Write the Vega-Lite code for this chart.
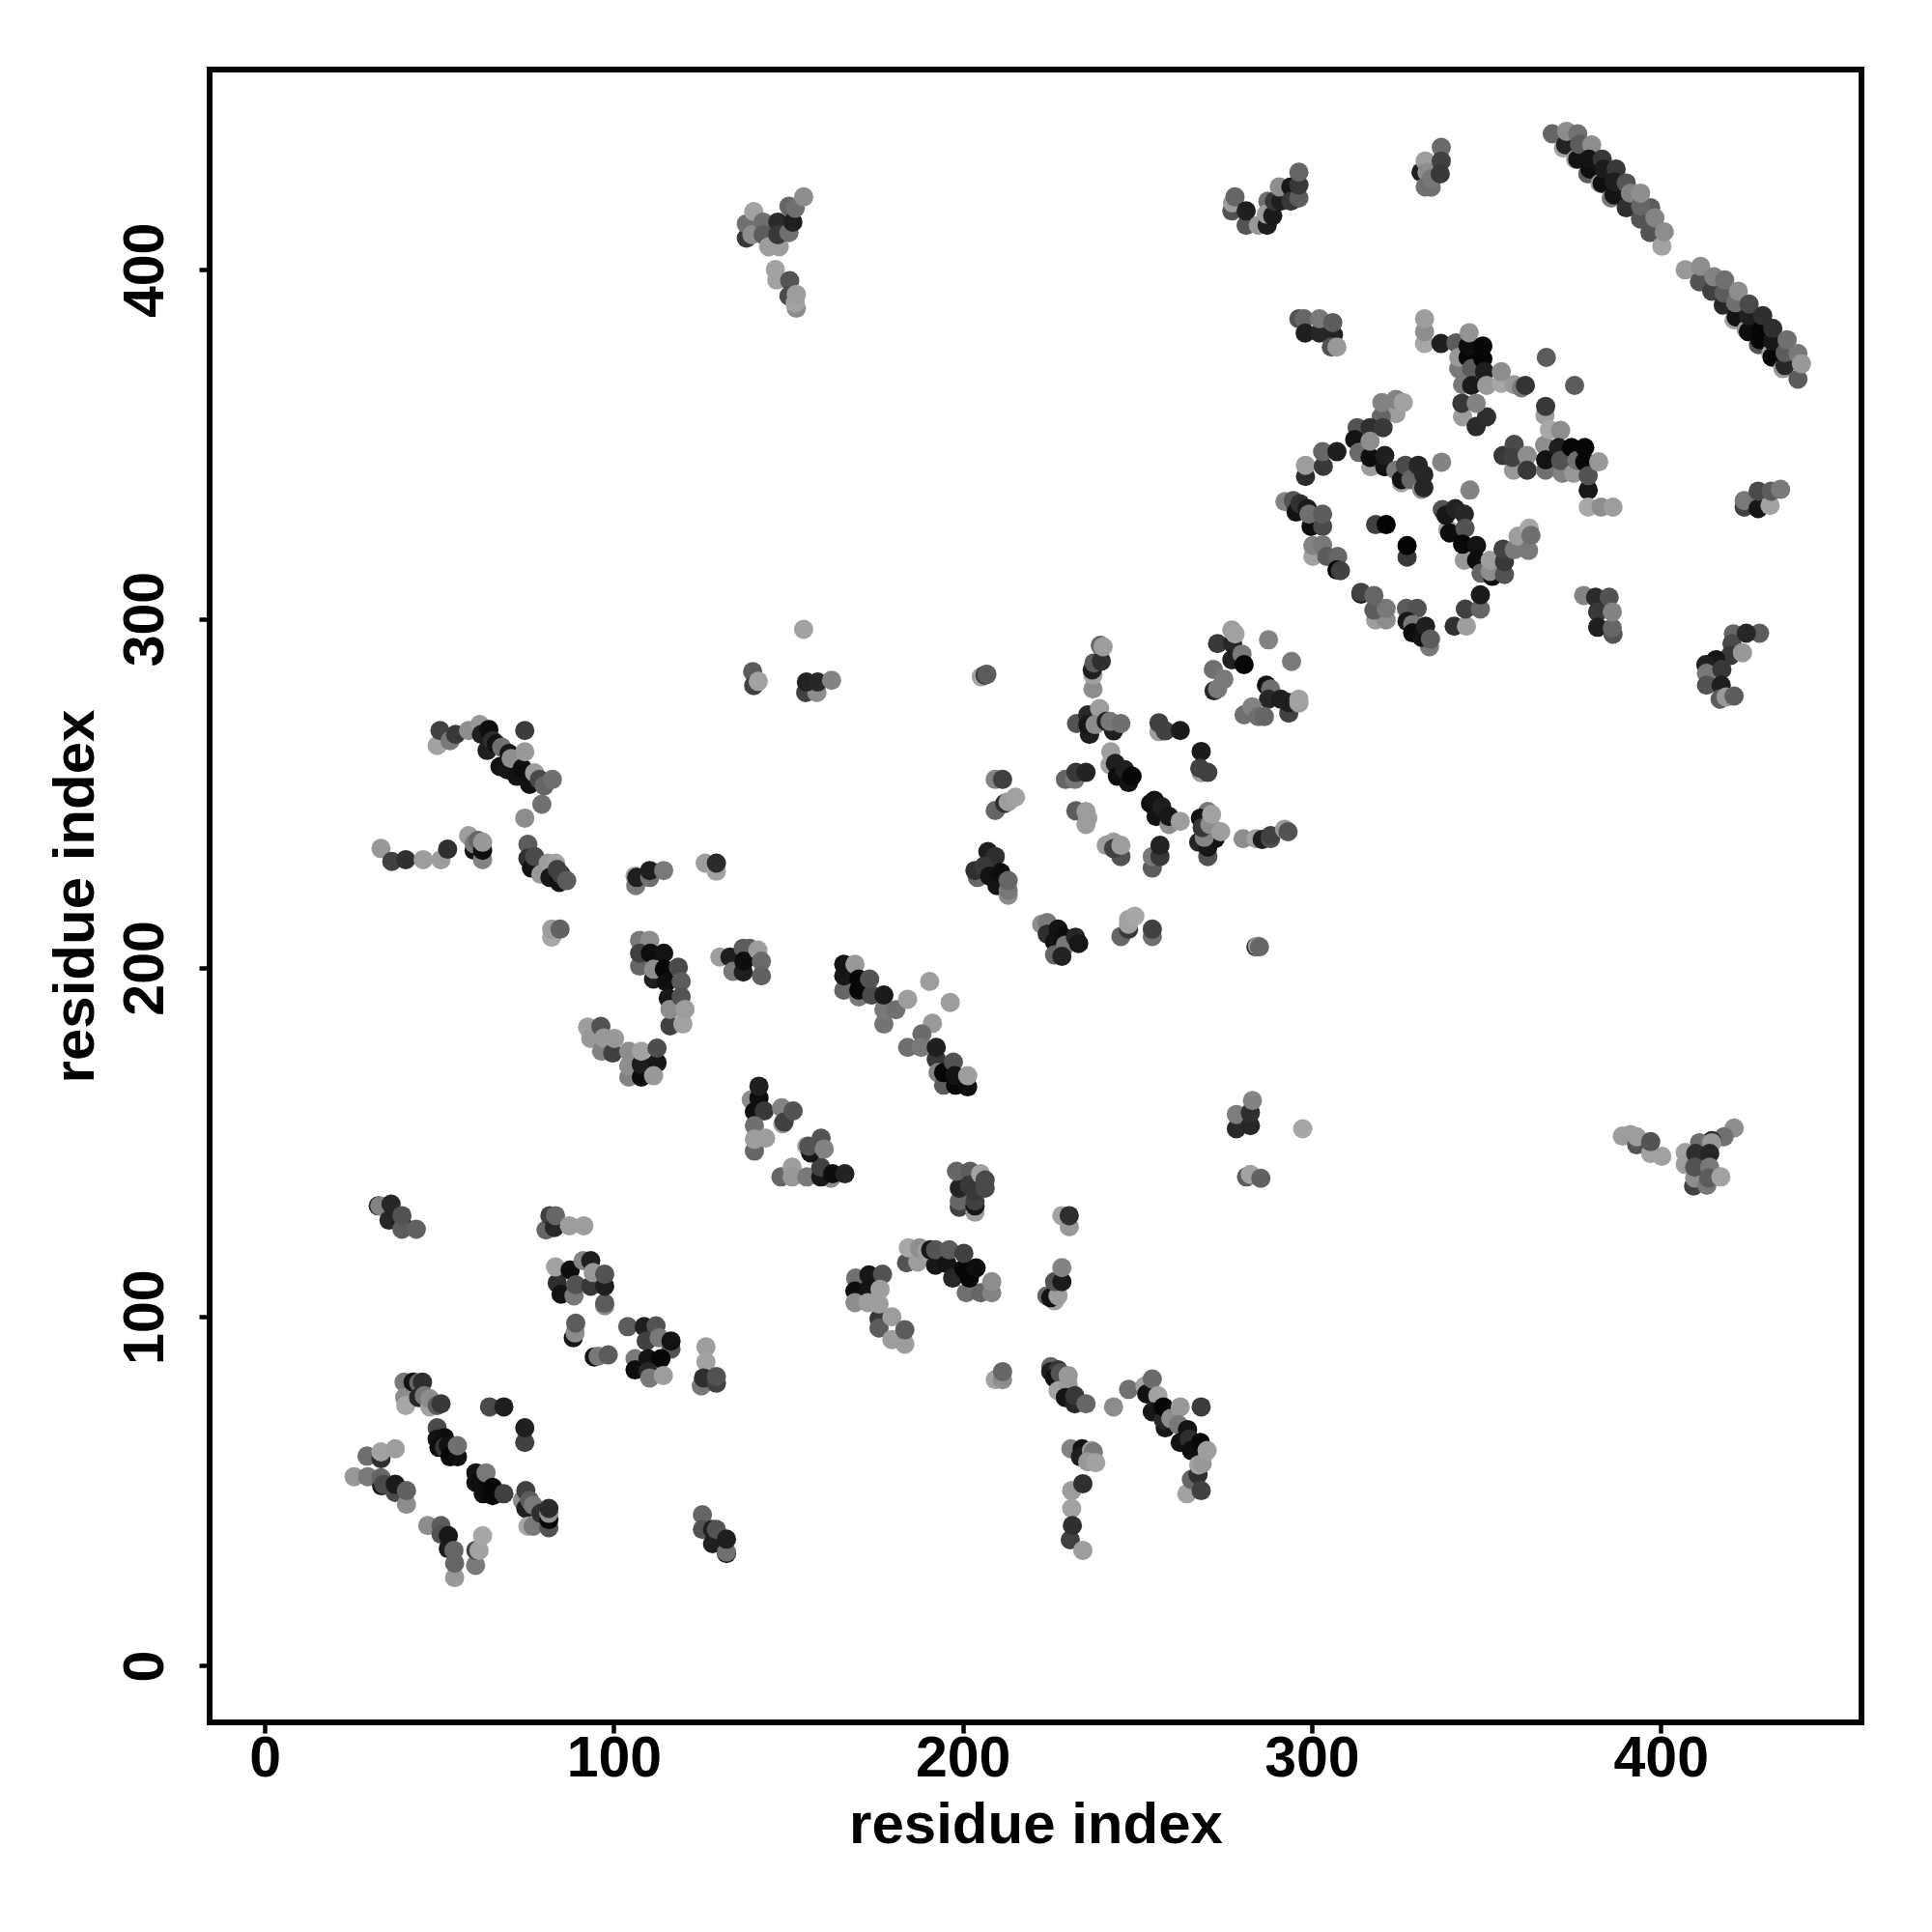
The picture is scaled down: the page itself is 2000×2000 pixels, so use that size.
{"$schema":"https://vega.github.io/schema/vega-lite/v6.json","width":1710,"height":1711,"autosize":{"type":"none"},"padding":{"left":217,"top":72,"right":73,"bottom":217},"background":"white","config":{"view":{"stroke":"black","strokeWidth":6},"axis":{"grid":false,"domain":false,"tickColor":"black","tickWidth":4.5,"tickSize":11,"labelColor":"black","titleColor":"black","labelFont":"Liberation Sans","titleFont":"Liberation Sans","labelFontWeight":"bold","titleFontWeight":"bold","labelFontSize":59,"titleFontSize":60}},"data":{"values":[
{"x":32.5,"y":131.8,"g":50},{"x":33,"y":131.8,"g":140},{"x":35.6,"y":127.7,"g":40},{"x":36.2,"y":132.3,"g":40},{"x":39.3,"y":126.7,"g":30},{"x":39.3,"y":125.1,"g":100},{"x":39.3,"y":129,"g":90},{"x":43.4,"y":125.1,"g":105},
{"x":80.6,"y":124.9,"g":110},{"x":81.7,"y":129,"g":70},{"x":83,"y":125.6,"g":40},{"x":83.3,"y":129,"g":110},{"x":87.3,"y":126.1,"g":165},{"x":91.4,"y":126.1,"g":165},
{"x":83.8,"y":109.7,"g":50},{"x":83.3,"y":114.3,"g":170},{"x":84.9,"y":106.5,"g":15},{"x":88.6,"y":106,"g":130},{"x":87.5,"y":113.4,"g":10},{"x":89.1,"y":109.2,"g":90},{"x":91.2,"y":116.1,"g":140},{"x":93.4,"y":116.1,"g":30},{"x":93.4,"y":108.8,"g":60},{"x":94.1,"y":112.7,"g":160},{"x":97.4,"y":103.2,"g":150},{"x":97.4,"y":103.9,"g":100},{"x":97.4,"y":108.8,"g":30},{"x":97.4,"y":112.2,"g":90},
{"x":88.4,"y":94,"g":20},{"x":88.9,"y":95.4,"g":150},{"x":89.1,"y":98.2,"g":100},{"x":94.4,"y":88.5,"g":15},{"x":95.5,"y":88.7,"g":130},{"x":98.4,"y":89.1,"g":100},
{"x":104,"y":97.2,"g":100},{"x":108.7,"y":97.2,"g":30},{"x":112.1,"y":97.4,"g":90},{"x":109.3,"y":93.1,"g":70},{"x":113,"y":94,"g":130},{"x":116.4,"y":90.8,"g":90},{"x":116.4,"y":93.1,"g":15},{"x":106.1,"y":88,"g":130},{"x":106.1,"y":84.8,"g":10},{"x":109.8,"y":88,"g":15},{"x":113.5,"y":88,"g":5},{"x":109.8,"y":84.3,"g":40},{"x":110.3,"y":82.5,"g":130},{"x":114.2,"y":83.2,"g":165},
{"x":126.4,"y":91.4,"g":165},{"x":126.4,"y":87.1,"g":170},{"x":125.1,"y":80.2,"g":130},{"x":125.7,"y":82.5,"g":50},{"x":129.4,"y":81,"g":70},{"x":129.4,"y":82.9,"g":90},
{"x":147.9,"y":140.1,"g":110},{"x":151.1,"y":142.9,"g":165},{"x":151.1,"y":140.1,"g":160},{"x":155.3,"y":140.1,"g":130},{"x":162.2,"y":139.7,"g":150},{"x":159.3,"y":140.1,"g":20},{"x":159.3,"y":142.9,"g":70},{"x":162.7,"y":141,"g":10},{"x":166.2,"y":141,"g":35},
{"x":169.3,"y":111.1,"g":120},{"x":169.1,"y":107.4,"g":10},{"x":173.1,"y":112,"g":20},{"x":173.1,"y":107.9,"g":15},{"x":177,"y":112.2,"g":90},{"x":169.1,"y":104.1,"g":150},{"x":172.8,"y":104.1,"g":165},{"x":176,"y":99.5,"g":60},{"x":176.3,"y":107.9,"g":165},{"x":176,"y":103.7,"g":165},{"x":176,"y":96.8,"g":100},{"x":179.7,"y":100,"g":165},{"x":179.7,"y":93.5,"g":165},{"x":183.4,"y":92.2,"g":165},{"x":183.4,"y":96.3,"g":100},
{"x":199,"y":131.4,"g":70},{"x":199,"y":133.2,"g":110},{"x":199,"y":136.9,"g":35},{"x":198.2,"y":141.7,"g":110},{"x":202.1,"y":141.7,"g":100},{"x":201.9,"y":137.8,"g":60},{"x":203.5,"y":130,"g":165},{"x":203.5,"y":131.8,"g":20},{"x":203.5,"y":133.2,"g":70},{"x":203.5,"y":136,"g":60},{"x":205.1,"y":141,"g":170},{"x":206.4,"y":136.9,"g":80},{"x":206.4,"y":139.2,"g":80},
{"x":228.4,"y":129,"g":170},{"x":230.5,"y":125.8,"g":160},{"x":230.5,"y":129,"g":50},{"x":224.1,"y":106,"g":110},{"x":226.3,"y":104.6,"g":170},{"x":225.2,"y":105.5,"g":15},{"x":227.3,"y":106,"g":165},{"x":226.3,"y":110.1,"g":90},{"x":228.4,"y":110.1,"g":25},{"x":228.4,"y":114.1,"g":140},
{"x":183.9,"y":115.5,"g":90},{"x":184.4,"y":119.8,"g":175},{"x":187.1,"y":115.7,"g":165},{"x":187.6,"y":119.8,"g":150},{"x":189.7,"y":118.9,"g":165},{"x":190.8,"y":119.2,"g":20},{"x":192.2,"y":114.8,"g":20},{"x":192.2,"y":119.2,"g":90},{"x":195.5,"y":115.2,"g":15},{"x":196.1,"y":119.2,"g":100},{"x":197.1,"y":111.1,"g":40},{"x":201,"y":106.9,"g":120},{"x":205.1,"y":106.9,"g":110},{"x":200.3,"y":113.8,"g":5},{"x":200.3,"y":118.2,"g":70},{"x":201.9,"y":111.1,"g":5},{"x":203.8,"y":114,"g":10},{"x":208.3,"y":106.9,"g":140},{"x":208.3,"y":110.1,"g":150},
{"x":281.3,"y":140.1,"g":100},{"x":282.4,"y":140.8,"g":170},{"x":285.4,"y":139.7,"g":105},{"x":209.3,"y":82,"g":170},{"x":211.4,"y":82,"g":150},{"x":211.4,"y":84.3,"g":110},
{"x":225.2,"y":85.7,"g":110},{"x":225.2,"y":84.3,"g":30},{"x":227.3,"y":84.8,"g":60},{"x":226.3,"y":82.5,"g":15},{"x":227.9,"y":83.9,"g":90},{"x":227.3,"y":78.8,"g":170},{"x":230.2,"y":80.6,"g":160},{"x":230.2,"y":83.2,"g":160},{"x":229.4,"y":76.9,"g":15},{"x":232.1,"y":75.1,"g":40},{"x":232.1,"y":77.4,"g":60},{"x":235.3,"y":75.1,"g":110},{"x":243.2,"y":74.2,"g":150},{"x":247.5,"y":79.2,"g":120},
{"x":252.2,"y":80.2,"g":170},{"x":252.7,"y":77.9,"g":15},{"x":254.3,"y":82.2,"g":115},{"x":255.9,"y":77.4,"g":170},{"x":254.3,"y":72.8,"g":20},{"x":258,"y":68.2,"g":20},{"x":257.5,"y":70.5,"g":40},{"x":257.5,"y":74.2,"g":5},{"x":259.6,"y":70.9,"g":150},{"x":262.3,"y":74.2,"g":160},{"x":268.3,"y":74.2,"g":65},{"x":261.8,"y":69.1,"g":130},{"x":262.3,"y":64,"g":15},{"x":264.4,"y":67.7,"g":15},{"x":264.9,"y":65,"g":50},{"x":265.5,"y":61.7,"g":10},{"x":264.2,"y":49.3,"g":170},{"x":265.5,"y":53.4,"g":110},{"x":267.4,"y":54.8,"g":50},{"x":267.6,"y":57.6,"g":170},{"x":268.6,"y":58,"g":160},{"x":268.1,"y":64,"g":5},{"x":270,"y":61.7,"g":165},{"x":268.3,"y":50.2,"g":70},
{"x":231,"y":62.2,"g":140},{"x":234.2,"y":62.2,"g":15},{"x":233.7,"y":59.9,"g":30},{"x":236.9,"y":61.7,"g":170},{"x":237.4,"y":61.3,"g":130},{"x":235.8,"y":58.5,"g":160},{"x":238.1,"y":58.2,"g":170},{"x":231.2,"y":50.2,"g":165},{"x":234.4,"y":52.2,"g":50},{"x":231.2,"y":45.1,"g":170},{"x":230.8,"y":36.1,"g":70},{"x":231.4,"y":40.2,"g":50},{"x":234.4,"y":33.1,"g":165},
{"x":39.9,"y":81.3,"g":130},{"x":40.1,"y":76.9,"g":150},{"x":40.4,"y":74.6,"g":175},{"x":42.5,"y":81.3,"g":15},{"x":44.1,"y":81.1,"g":110},{"x":45.2,"y":81.3,"g":50},{"x":44.1,"y":76.9,"g":40},{"x":45.7,"y":77.4,"g":130},{"x":47.3,"y":74.2,"g":170},{"x":47.3,"y":76.5,"g":150},{"x":49.4,"y":74.6,"g":100},{"x":50.5,"y":75.1,"g":60},{"x":64.4,"y":74.2,"g":80},{"x":68.5,"y":74.2,"g":30},{"x":74.5,"y":64,"g":70},{"x":74.5,"y":68.2,"g":30},
{"x":49.4,"y":68.2,"g":80},{"x":49.4,"y":65,"g":15},{"x":49.9,"y":62.6,"g":10},{"x":51.5,"y":65.4,"g":10},{"x":51.5,"y":62.6,"g":60},{"x":52.6,"y":63.1,"g":15},{"x":53.1,"y":59.9,"g":5},{"x":55.2,"y":59.9,"g":10},{"x":55.2,"y":63.1,"g":120},
{"x":29.3,"y":60.1,"g":120},{"x":33.3,"y":59.4,"g":50},{"x":33.3,"y":61.3,"g":170},{"x":37.4,"y":62.2,"g":165},
{"x":25.6,"y":54.2,"g":160},{"x":29.5,"y":54.2,"g":130},{"x":33.5,"y":51.6,"g":15},{"x":33.3,"y":53.9,"g":110},{"x":34,"y":52,"g":80},{"x":37.4,"y":49.7,"g":80},{"x":37.4,"y":52,"g":25},{"x":40.6,"y":46.3,"g":150},{"x":40.6,"y":50.2,"g":105},
{"x":60.5,"y":55.3,"g":15},{"x":60.5,"y":52.5,"g":10},{"x":63.4,"y":55.3,"g":130},{"x":62.6,"y":49.3,"g":10},{"x":65.3,"y":51.1,"g":5},{"x":65.3,"y":48.8,"g":5},{"x":68.5,"y":49.3,"g":70},
{"x":73.8,"y":47.4,"g":150},{"x":74.8,"y":45.1,"g":30},{"x":74.8,"y":50.2,"g":70},{"x":75.9,"y":47.4,"g":100},{"x":75.4,"y":40,"g":175},{"x":76.9,"y":40,"g":130},{"x":76.9,"y":46,"g":130},{"x":79.1,"y":43.7,"g":50},{"x":81.4,"y":39.6,"g":90},{"x":81.4,"y":41.9,"g":5},{"x":81.4,"y":43.7,"g":150},{"x":81.4,"y":45.1,"g":45},
{"x":46.7,"y":40.2,"g":150},{"x":50.5,"y":40.2,"g":100},{"x":50.5,"y":37.7,"g":90},{"x":52.6,"y":33.6,"g":25},{"x":52.6,"y":37.3,"g":20},{"x":54.4,"y":25.3,"g":160},{"x":54.4,"y":29.4,"g":110},{"x":54.2,"y":33.1,"g":110},{"x":60.4,"y":28.8,"g":130},{"x":60.5,"y":33.1,"g":70},{"x":61.4,"y":33.1,"g":170},{"x":62.4,"y":37.3,"g":175},
{"x":125.4,"y":43.3,"g":110},{"x":125.4,"y":39.1,"g":90},{"x":128.3,"y":35,"g":30},{"x":128.3,"y":39.1,"g":30},{"x":129.4,"y":39.1,"g":90},{"x":132.3,"y":32.2,"g":15},{"x":132.3,"y":32.6,"g":120},{"x":132.3,"y":36.3,"g":30},
{"x":49.4,"y":263.7,"g":170},{"x":50.2,"y":268,"g":70},{"x":53.1,"y":265.1,"g":130},{"x":54.7,"y":266.9,"g":60},{"x":58.4,"y":268,"g":150},{"x":61.6,"y":269.7,"g":160},{"x":63.7,"y":262.3,"g":30},{"x":62.1,"y":266.9,"g":30},{"x":64.2,"y":268.3,"g":10},{"x":65.3,"y":265.1,"g":50},{"x":66.3,"y":264.2,"g":15},{"x":67.4,"y":257.7,"g":15},{"x":67.9,"y":263.2,"g":120},{"x":69.5,"y":256.8,"g":20},{"x":70,"y":261.4,"g":20},{"x":70.6,"y":260,"g":150},{"x":72.2,"y":254.9,"g":15},{"x":73.8,"y":257.2,"g":10},{"x":74.5,"y":261.9,"g":160},{"x":74.5,"y":268,"g":65},{"x":75.9,"y":252.6,"g":15},{"x":77.3,"y":255.9,"g":165},{"x":78.7,"y":254,"g":80},{"x":80.1,"y":252.2,"g":110},{"x":82.4,"y":254,"g":120},{"x":79.4,"y":246.9,"g":120},{"x":74.5,"y":242.9,"g":150},
{"x":33.3,"y":234.2,"g":160},{"x":36.4,"y":230.5,"g":70},{"x":40.4,"y":231,"g":50},{"x":45.4,"y":231,"g":165},{"x":50.5,"y":231,"g":165},{"x":52.4,"y":234,"g":50},
{"x":58.4,"y":237.9,"g":165},{"x":60,"y":233.7,"g":15},{"x":60,"y":235.6,"g":130},{"x":61.1,"y":236.5,"g":110},{"x":62.4,"y":231,"g":140},{"x":62.4,"y":233.7,"g":10},{"x":62.4,"y":236,"g":160},
{"x":75.4,"y":235.4,"g":100},{"x":75.4,"y":231.4,"g":50},{"x":76.4,"y":228.6,"g":15},{"x":77.3,"y":231.9,"g":80},{"x":79.1,"y":226.8,"g":160},{"x":81.2,"y":230,"g":165},{"x":83.3,"y":230,"g":170},{"x":81.7,"y":225.9,"g":20},{"x":83.8,"y":228.2,"g":70},{"x":84.4,"y":224.5,"g":15},{"x":84.9,"y":226.8,"g":70},{"x":86.5,"y":225,"g":100},
{"x":106.1,"y":226.3,"g":170},{"x":106.3,"y":223.6,"g":130},{"x":106.6,"y":225.9,"g":30},{"x":110.3,"y":225.9,"g":120},{"x":110.3,"y":227.9,"g":30},{"x":114.3,"y":227.9,"g":130},{"x":126.2,"y":230,"g":165},{"x":129.4,"y":227.7,"g":170},{"x":129.4,"y":230,"g":45},{"x":82.2,"y":208.8,"g":175},{"x":82.2,"y":211.1,"g":165},{"x":84.6,"y":211.1,"g":105},
{"x":107.4,"y":207.9,"g":130},{"x":110.3,"y":207.9,"g":150},{"x":107.4,"y":200.5,"g":110},{"x":107.4,"y":204.2,"g":70},{"x":110.5,"y":204.2,"g":10},{"x":114.3,"y":204.2,"g":15},{"x":111.4,"y":196.8,"g":30},{"x":111.4,"y":199.6,"g":150},{"x":114.5,"y":199.6,"g":5},{"x":115.1,"y":195.9,"g":10},{"x":115.6,"y":191.3,"g":20},{"x":116.1,"y":183.4,"g":70},{"x":116.1,"y":188.1,"g":150},{"x":118.5,"y":200.2,"g":80},{"x":119.3,"y":196.1,"g":100},{"x":119.3,"y":191.7,"g":90},{"x":119.8,"y":183.9,"g":170},{"x":120.4,"y":188.1,"g":165},
{"x":130.4,"y":203.1,"g":165},{"x":133.3,"y":203.1,"g":30},{"x":134.1,"y":199,"g":130},{"x":137.1,"y":205.6,"g":100},{"x":137.1,"y":198.8,"g":30},{"x":138.9,"y":205.6,"g":100},{"x":137.3,"y":201.9,"g":10},{"x":141.3,"y":205.1,"g":165},{"x":142.3,"y":201.9,"g":115},{"x":142.3,"y":197.7,"g":105},
{"x":92.5,"y":183,"g":165},{"x":93.4,"y":179.8,"g":160},{"x":96.3,"y":183.2,"g":90},{"x":96.5,"y":176.1,"g":140},{"x":97.1,"y":179.9,"g":160},{"x":99.7,"y":175.6,"g":70},{"x":100.2,"y":179.8,"g":160},{"x":104.3,"y":168.7,"g":140},{"x":104.3,"y":171.9,"g":150},{"x":104.3,"y":176.1,"g":150},{"x":107.9,"y":168.7,"g":10},{"x":107.9,"y":172.4,"g":25},{"x":107.9,"y":176.1,"g":170},{"x":112.4,"y":172.8,"g":20},{"x":111.4,"y":169.1,"g":160},{"x":112.4,"y":177,"g":85},
{"x":139.4,"y":162.2,"g":150},{"x":141.6,"y":162.7,"g":10},{"x":141.6,"y":166.1,"g":30},{"x":140.3,"y":158.8,"g":10},{"x":143.1,"y":159,"g":60},{"x":140.3,"y":154.8,"g":120},{"x":148.4,"y":155.3,"g":170},{"x":148.1,"y":159.9,"g":140},{"x":148.8,"y":155.8,"g":70},{"x":151.4,"y":159,"g":90},{"x":140.3,"y":147.5,"g":110},{"x":140.3,"y":150.9,"g":165},{"x":143.5,"y":151.2,"g":165},{"x":155.3,"y":148.9,"g":165},{"x":156.4,"y":147,"g":20},{"x":155.9,"y":148.9,"g":90},{"x":159.4,"y":151.2,"g":90},{"x":160.3,"y":148.1,"g":140},
{"x":165.9,"y":193.6,"g":110},{"x":165.9,"y":197.7,"g":20},{"x":165.9,"y":201,"g":15},{"x":169.1,"y":201,"g":160},{"x":170.2,"y":191.7,"g":130},{"x":170.2,"y":193.6,"g":5},{"x":170.2,"y":196.8,"g":5},{"x":173.9,"y":192.2,"g":80},{"x":173.3,"y":196.8,"g":90},{"x":177.4,"y":183.9,"g":125},{"x":177.4,"y":188,"g":130},{"x":177.4,"y":192.2,"g":25},{"x":180.8,"y":188,"g":120},
{"x":190.5,"y":196.1,"g":165},{"x":184.2,"y":191,"g":165},{"x":196.4,"y":190.1,"g":165},{"x":191.3,"y":184.1,"g":160},{"x":188.3,"y":181.1,"g":115},{"x":184.2,"y":177.2,"g":120},{"x":188.1,"y":177.2,"g":130},{"x":192.4,"y":173.8,"g":60},{"x":192.4,"y":177.2,"g":30},{"x":192.9,"y":170,"g":140},{"x":194.5,"y":166.4,"g":100},{"x":194.5,"y":170,"g":5},{"x":197.3,"y":173,"g":90},{"x":197.9,"y":166.4,"g":5},{"x":197.7,"y":169.1,"g":15},{"x":201.4,"y":165.9,"g":10},{"x":201.4,"y":169.1,"g":165},
{"x":278.4,"y":153.9,"g":45},{"x":278.4,"y":158,"g":135},{"x":282.4,"y":154.8,"g":40},{"x":282.4,"y":158.5,"g":50},{"x":283,"y":162,"g":140},{"x":297.4,"y":153.9,"g":175},
{"x":232.6,"y":270,"g":90},{"x":235.8,"y":272.5,"g":40},{"x":236.3,"y":266.9,"g":30},{"x":235.8,"y":269.7,"g":20},{"x":239.2,"y":274.3,"g":165},{"x":237.9,"y":269.7,"g":150},{"x":241.1,"y":270.6,"g":35},{"x":243.2,"y":267.9,"g":30},{"x":242.2,"y":270.6,"g":130},{"x":245.3,"y":270,"g":120},
{"x":256.2,"y":267.7,"g":165},{"x":256.2,"y":270.2,"g":70},{"x":258,"y":267.9,"g":70},{"x":262.3,"y":268,"g":25},{"x":268.3,"y":262,"g":25},{"x":268.3,"y":255.9,"g":165},{"x":267.9,"y":257.2,"g":70},{"x":270.2,"y":256,"g":70},
{"x":242.4,"y":261.9,"g":165},{"x":242.2,"y":258.2,"g":170},{"x":243.7,"y":258.6,"g":30},{"x":244.3,"y":254.9,"g":10},{"x":246.4,"y":256.8,"g":30},{"x":247.5,"y":253.1,"g":15},{"x":248.5,"y":254.9,"g":5},
{"x":229.4,"y":254,"g":110},{"x":232.1,"y":254,"g":130},{"x":232.4,"y":256,"g":60},{"x":235.3,"y":256,"g":35},{"x":209.3,"y":254,"g":140},{"x":211.4,"y":254,"g":70},{"x":209.3,"y":245.1,"g":110},{"x":212,"y":247.1,"g":50},{"x":213,"y":247.6,"g":165},{"x":215.1,"y":248.9,"g":170},
{"x":232.4,"y":245,"g":100},{"x":235.3,"y":241.1,"g":165},{"x":235.3,"y":244.8,"g":165},{"x":235.8,"y":242.9,"g":165},
{"x":253.8,"y":247.1,"g":10},{"x":254.9,"y":248,"g":15},{"x":255.4,"y":243.4,"g":15},{"x":257,"y":246.2,"g":30},{"x":259.1,"y":241.1,"g":150},{"x":259.1,"y":243.4,"g":20},{"x":262.3,"y":242,"g":165},
{"x":270.2,"y":231.9,"g":90},{"x":267.6,"y":236,"g":40},{"x":270.2,"y":234.6,"g":20},{"x":272.3,"y":237,"g":15},{"x":269.2,"y":237.4,"g":140},{"x":270.2,"y":244.8,"g":130},{"x":268.1,"y":242.9,"g":15},{"x":268.6,"y":240.2,"g":60},{"x":270.8,"y":241.1,"g":150},{"x":271.3,"y":244,"g":170},{"x":273.9,"y":239,"g":165},
{"x":280.3,"y":237,"g":150},{"x":284,"y":237,"g":170},{"x":285.8,"y":236.8,"g":30},{"x":288.2,"y":237,"g":90},{"x":288.2,"y":237.9,"g":70},{"x":292.2,"y":239.7,"g":160},{"x":293.2,"y":239,"g":90},
{"x":241.1,"y":235.1,"g":165},{"x":245.3,"y":231.9,"g":90},{"x":243.2,"y":236,"g":165},{"x":243.2,"y":234.2,"g":70},{"x":245.3,"y":235.1,"g":165},
{"x":254.3,"y":228.6,"g":100},{"x":254.3,"y":231.9,"g":130},{"x":256.5,"y":231.9,"g":60},{"x":256.5,"y":235.1,"g":35},
{"x":204.2,"y":225.9,"g":110},{"x":203.5,"y":227.9,"g":50},{"x":207.2,"y":233.3,"g":30},{"x":209.3,"y":231.9,"g":50},{"x":206.1,"y":229.1,"g":60},{"x":207.7,"y":226.3,"g":15},{"x":209.8,"y":223.6,"g":15},{"x":210.9,"y":227.3,"g":10},{"x":213,"y":220.8,"g":150},{"x":213,"y":222.2,"g":130},{"x":213,"y":225,"g":110},
{"x":222.6,"y":212.5,"g":150},{"x":224.2,"y":213,"g":130},{"x":224.2,"y":209.7,"g":50},{"x":227.3,"y":211.1,"g":15},{"x":226.3,"y":207.4,"g":15},{"x":228.9,"y":208.8,"g":10},{"x":226.3,"y":203.7,"g":110},{"x":229.4,"y":206.5,"g":130},{"x":228.4,"y":203.3,"g":35},{"x":232.3,"y":208.8,"g":40},{"x":233.2,"y":207,"g":20},
{"x":245.3,"y":209,"g":110},{"x":247.5,"y":211.1,"g":60},{"x":247.5,"y":212.5,"g":170},{"x":247.5,"y":213.9,"g":170},{"x":249.3,"y":214.8,"g":175},{"x":254.3,"y":209,"g":120},{"x":254.3,"y":211.1,"g":70},{"x":284,"y":206,"g":60},{"x":284.5,"y":206.2,"g":170},{"x":285,"y":206,"g":110},
{"x":138,"y":409.1,"g":60},{"x":138,"y":413.2,"g":120},{"x":140.1,"y":416.7,"g":170},{"x":139.6,"y":410.1,"g":150},{"x":142.8,"y":413.7,"g":120},{"x":142.8,"y":410.1,"g":100},{"x":144.4,"y":406.6,"g":165},{"x":147.4,"y":406.6,"g":165},{"x":147,"y":413.7,"g":45},{"x":147,"y":410.1,"g":60},{"x":150.2,"y":410.7,"g":120},{"x":150.2,"y":418.2,"g":110},{"x":151.3,"y":413.7,"g":30},{"x":152,"y":417.7,"g":120},{"x":154.4,"y":420.9,"g":150},
{"x":146.3,"y":400.1,"g":170},{"x":146.7,"y":397.1,"g":170},{"x":150.4,"y":396.9,"g":90},{"x":150.2,"y":392.5,"g":80},{"x":152.3,"y":389,"g":150},{"x":152,"y":390.5,"g":170},{"x":152.3,"y":393,"g":165},{"x":154.4,"y":297,"g":170},
{"x":139.8,"y":284.9,"g":100},{"x":140.1,"y":280.9,"g":70},{"x":141.4,"y":282.1,"g":170},{"x":155,"y":278.9,"g":70},{"x":158.2,"y":278.9,"g":150},{"x":155.2,"y":281.9,"g":35},{"x":158.4,"y":281.9,"g":40},{"x":162.4,"y":282.4,"g":140},{"x":205.3,"y":283.4,"g":170},{"x":206.4,"y":283.9,"g":60},{"x":206.9,"y":284.1,"g":100},
{"x":237.3,"y":279.9,"g":150},{"x":237.3,"y":283.9,"g":170},{"x":237.1,"y":285.4,"g":30},{"x":237.6,"y":287.4,"g":100},{"x":239.7,"y":287.9,"g":50},{"x":239.4,"y":292.4,"g":110},{"x":240.2,"y":292,"g":165},
{"x":273,"y":292.9,"g":60},{"x":277.3,"y":292.9,"g":40},{"x":277.1,"y":296.8,"g":165},{"x":278,"y":295.7,"g":170},{"x":277.1,"y":288.3,"g":30},{"x":280,"y":289.9,"g":130},{"x":280.6,"y":286.9,"g":5},{"x":271.8,"y":285.5,"g":120},{"x":272,"y":279.4,"g":40},{"x":273,"y":279.9,"g":130},{"x":274.8,"y":282.7,"g":130},{"x":287.6,"y":294,"g":140},{"x":294.2,"y":287.8,"g":130},
{"x":287,"y":281,"g":15},{"x":288.2,"y":279.9,"g":120},{"x":287.6,"y":277,"g":40},{"x":291.1,"y":277,"g":30},{"x":293.4,"y":273,"g":70},{"x":293.4,"y":276,"g":30},{"x":296.3,"y":275.9,"g":165},{"x":296.3,"y":277,"g":170},{"x":280.6,"y":272.5,"g":120},{"x":282.9,"y":274.8,"g":140},{"x":284.7,"y":272,"g":120},{"x":286.4,"y":272,"g":110},
{"x":428.3,"y":295.9,"g":100},{"x":420.8,"y":295.7,"g":110},{"x":420.4,"y":292.9,"g":80},{"x":419.9,"y":289.5,"g":60},{"x":424.5,"y":295.9,"g":40},{"x":423.4,"y":290.3,"g":160},{"x":415.8,"y":288.3,"g":20},{"x":412.9,"y":286.9,"g":30},{"x":413.1,"y":284.4,"g":130},{"x":417.5,"y":285.5,"g":60},{"x":413.1,"y":281,"g":90},{"x":417.3,"y":281,"g":30},{"x":417,"y":277,"g":100},{"x":418.7,"y":277.6,"g":160},{"x":421,"y":277.9,"g":100},
{"x":389,"y":151.8,"g":165},{"x":391.3,"y":152.2,"g":165},{"x":393.1,"y":149.3,"g":90},{"x":393.1,"y":151.6,"g":165},{"x":397.1,"y":146.8,"g":170},{"x":400.3,"y":146,"g":170},{"x":397.1,"y":150.2,"g":90},
{"x":421,"y":154.1,"g":150},{"x":418.1,"y":151.6,"g":120},{"x":414.6,"y":150.5,"g":40},{"x":411.1,"y":149.9,"g":120},{"x":414.6,"y":149.9,"g":160},{"x":407,"y":147.1,"g":170},{"x":407,"y":143.7,"g":165},{"x":410,"y":146.8,"g":50},{"x":414,"y":146.8,"g":40},{"x":409.4,"y":137.5,"g":70},{"x":409.7,"y":139.8,"g":150},{"x":409.7,"y":142.9,"g":90},{"x":413.2,"y":137.7,"g":130},{"x":414,"y":142.9,"g":130},{"x":413.7,"y":139.8,"g":100},{"x":417.2,"y":140.1,"g":170},
{"x":277.1,"y":416.9,"g":90},{"x":277.3,"y":419.2,"g":165},{"x":278,"y":420.9,"g":110},{"x":281.2,"y":412.8,"g":90},{"x":281.2,"y":416.9,"g":30},{"x":284.7,"y":412.8,"g":160},{"x":287.2,"y":412.8,"g":30},{"x":287.4,"y":419.7,"g":120},{"x":287,"y":416,"g":165},{"x":288.8,"y":415.5,"g":25},{"x":289.3,"y":419.7,"g":60},{"x":291.1,"y":419.7,"g":30},{"x":290.7,"y":423.8,"g":150},{"x":294,"y":423.8,"g":20},{"x":294,"y":419.7,"g":60},{"x":296.3,"y":420.6,"g":100},{"x":296.3,"y":424.3,"g":60},{"x":296.3,"y":428,"g":110},
{"x":331.3,"y":428,"g":30},{"x":332.5,"y":431.2,"g":165},{"x":333,"y":428,"g":150},{"x":332.5,"y":423.8,"g":120},{"x":334.2,"y":423.7,"g":120},{"x":334.2,"y":426.1,"g":130},{"x":337.1,"y":435.1,"g":115},{"x":337.1,"y":431.2,"g":70},{"x":336.8,"y":427.5,"g":60},
{"x":368.9,"y":439,"g":110},{"x":372.1,"y":434.9,"g":170},{"x":372.7,"y":435.8,"g":35},{"x":373,"y":439.7,"g":150},{"x":376.2,"y":439,"g":120},{"x":375.6,"y":431.7,"g":170},{"x":376.2,"y":431.7,"g":15},{"x":376.7,"y":436,"g":100},{"x":380.2,"y":435.8,"g":150},{"x":379.1,"y":427.5,"g":100},{"x":379.7,"y":428.9,"g":10},{"x":379.4,"y":431.7,"g":15},{"x":383.2,"y":431.7,"g":60},{"x":382.6,"y":424.8,"g":165},{"x":383.2,"y":424.8,"g":10},{"x":383.7,"y":428.9,"g":25},{"x":387.2,"y":428.9,"g":60},{"x":385.8,"y":420.6,"g":130},{"x":386.6,"y":421.5,"g":15},{"x":386.7,"y":425.2,"g":30},{"x":390.1,"y":424.9,"g":90},{"x":390.1,"y":417.8,"g":50},{"x":391.3,"y":422,"g":140},{"x":394.2,"y":414.6,"g":90},{"x":397.1,"y":417.8,"g":100},{"x":394.2,"y":418.3,"g":110},{"x":394.2,"y":422,"g":150},{"x":396.9,"y":410.7,"g":90},{"x":398.3,"y":414.9,"g":140},{"x":400.3,"y":406.8,"g":170},{"x":401,"y":410.9,"g":150},
{"x":407,"y":400,"g":160},{"x":411.1,"y":396.6,"g":90},{"x":411.4,"y":401,"g":150},{"x":414.6,"y":393.9,"g":70},{"x":415.2,"y":398,"g":140},{"x":417.9,"y":389.9,"g":40},{"x":418.1,"y":393.4,"g":100},{"x":418.3,"y":397.1,"g":120},{"x":421,"y":385.7,"g":170},{"x":421.6,"y":386.5,"g":15},{"x":421.4,"y":390.6,"g":120},{"x":422.2,"y":393.9,"g":150},{"x":424.5,"y":382.8,"g":165},{"x":425.1,"y":382.3,"g":10},{"x":425.1,"y":386.9,"g":30},{"x":425.3,"y":390.2,"g":80},{"x":428,"y":378.6,"g":90},{"x":428.4,"y":380,"g":5},{"x":428.6,"y":382.8,"g":5},{"x":429.2,"y":386.9,"g":50},{"x":431.5,"y":375.9,"g":170},{"x":431.9,"y":375,"g":5},{"x":432.1,"y":379.6,"g":20},{"x":432.1,"y":383.2,"g":50},{"x":435,"y":371.7,"g":160},{"x":435.6,"y":372.6,"g":40},{"x":435.6,"y":376.3,"g":100},{"x":436.2,"y":380,"g":120},{"x":439.3,"y":376,"g":130},{"x":439.3,"y":368.7,"g":100},{"x":440.3,"y":373.1,"g":160},
{"x":296.3,"y":386,"g":90},{"x":297.8,"y":386,"g":110},{"x":298.1,"y":381.9,"g":30},{"x":302.2,"y":381.9,"g":40},{"x":302.2,"y":386,"g":130},{"x":306.2,"y":381.4,"g":35},{"x":306,"y":384.9,"g":100},{"x":305.6,"y":377.9,"g":90},{"x":307.2,"y":377.9,"g":160},
{"x":332.3,"y":378.9,"g":175},{"x":332.3,"y":382.3,"g":150},{"x":332.3,"y":386,"g":165},{"x":337,"y":378.9,"g":30},{"x":341.3,"y":379.1,"g":100},{"x":342.1,"y":371.7,"g":130},{"x":342.1,"y":374.9,"g":160},{"x":344.8,"y":374.9,"g":5},{"x":344.8,"y":378.2,"g":10},{"x":345.1,"y":382,"g":155},{"x":345.8,"y":371.7,"g":100},{"x":349,"y":374.5,"g":5},{"x":349,"y":378.2,"g":5},{"x":343.2,"y":367.1,"g":130},{"x":345.8,"y":366.9,"g":25},{"x":349.5,"y":370.8,"g":30},{"x":350.1,"y":366.9,"g":160},{"x":354.3,"y":367.5,"g":175},{"x":354.3,"y":370.8,"g":150},{"x":358,"y":367.1,"g":160},{"x":360.1,"y":366.2,"g":130},{"x":361.2,"y":366.9,"g":55},{"x":367.2,"y":374.9,"g":100},{"x":375.3,"y":366.9,"g":100},
{"x":343.2,"y":357.9,"g":165},{"x":343,"y":361.8,"g":60},{"x":347.1,"y":355.1,"g":45},{"x":350.1,"y":357.9,"g":50},{"x":347.1,"y":361.8,"g":140},
{"x":366.8,"y":358.3,"g":165},{"x":367,"y":360.9,"g":60},{"x":366.7,"y":349.8,"g":150},{"x":368.1,"y":354.2,"g":175},{"x":371.3,"y":354,"g":150},
{"x":354.8,"y":346.8,"g":60},{"x":357.8,"y":342.6,"g":160},{"x":358,"y":350,"g":80},{"x":357.5,"y":346.3,"g":70},{"x":361.7,"y":346.8,"g":150},{"x":361.7,"y":342.6,"g":60},{"x":367,"y":342.6,"g":120},{"x":367,"y":345.6,"g":15},{"x":370.7,"y":349.1,"g":30},{"x":371.8,"y":341.7,"g":140},{"x":371.3,"y":345.4,"g":90},{"x":374.4,"y":349.1,"g":5},{"x":375,"y":341.7,"g":160},{"x":376,"y":345.4,"g":120},{"x":378.2,"y":349.1,"g":5},{"x":378.2,"y":345,"g":5},{"x":379.2,"y":336.9,"g":20},{"x":379.2,"y":341,"g":90},{"x":382.2,"y":345,"g":160},{"x":379.2,"y":332,"g":175},{"x":382.9,"y":332,"g":150},{"x":386.3,"y":332,"g":165},
{"x":324.1,"y":358.8,"g":165},{"x":324.1,"y":362.9,"g":140},{"x":326.2,"y":362,"g":170},{"x":319.9,"y":357.9,"g":110},{"x":320.1,"y":362,"g":140},{"x":313,"y":354.8,"g":90},{"x":312.3,"y":351.4,"g":15},{"x":313.5,"y":347.7,"g":115},{"x":316.7,"y":354.8,"g":50},{"x":320.4,"y":354.8,"g":60},{"x":316.9,"y":343.6,"g":165},{"x":316.7,"y":346.3,"g":10},{"x":316.7,"y":350.9,"g":150},{"x":320.9,"y":343.6,"g":15},{"x":320.9,"y":346.8,"g":30},
{"x":324.1,"y":342.6,"g":130},{"x":325.7,"y":339,"g":170},{"x":325.7,"y":339.9,"g":15},{"x":326.8,"y":344,"g":80},{"x":328.4,"y":339.9,"g":110},{"x":330.5,"y":344,"g":40},{"x":331.5,"y":337.1,"g":150},{"x":332.1,"y":337.6,"g":40},{"x":332.1,"y":341.3,"g":40},{"x":337.2,"y":344.9,"g":140},{"x":345.3,"y":336.9,"g":140},
{"x":298.2,"y":340.8,"g":45},{"x":298.2,"y":344,"g":165},{"x":303.3,"y":343.7,"g":60},{"x":303.1,"y":347.9,"g":110},{"x":307.2,"y":347.9,"g":30},
{"x":292.3,"y":333.6,"g":140},{"x":294.7,"y":333.9,"g":90},{"x":295.5,"y":330.6,"g":15},{"x":296.6,"y":333,"g":50},{"x":298.7,"y":331.6,"g":25},{"x":299.8,"y":326.5,"g":10},{"x":299.2,"y":330,"g":120},{"x":303.1,"y":326.5,"g":80},{"x":303.1,"y":330,"g":100},
{"x":300.3,"y":317.9,"g":170},{"x":300.3,"y":321,"g":140},{"x":303.1,"y":321.2,"g":130},{"x":304.3,"y":317.9,"g":100},{"x":307.4,"y":317.9,"g":110},{"x":307.2,"y":314,"g":5},{"x":308.2,"y":313.8,"g":70},
{"x":318.3,"y":327,"g":70},{"x":321.3,"y":327,"g":3},{"x":327.3,"y":317.7,"g":60},{"x":327.3,"y":321,"g":3},
{"x":314.1,"y":307.1,"g":20},{"x":314.1,"y":307.6,"g":70},{"x":318.3,"y":299.7,"g":165},{"x":321.3,"y":299.7,"g":150},{"x":317.8,"y":302.5,"g":100},{"x":321.3,"y":303,"g":130},{"x":317.8,"y":306.7,"g":110},
{"x":327.1,"y":303,"g":100},{"x":330.2,"y":303,"g":90},{"x":327.3,"y":299.3,"g":20},{"x":328.9,"y":298.4,"g":130},{"x":328.9,"y":296,"g":10},{"x":333.7,"y":292,"g":130},{"x":331.5,"y":294.7,"g":15},{"x":332.6,"y":297.9,"g":30},{"x":334,"y":294.2,"g":100},
{"x":340.8,"y":297.9,"g":50},{"x":344.3,"y":297.9,"g":165},{"x":344,"y":302.8,"g":70},{"x":348.3,"y":302.8,"g":110},{"x":348.3,"y":306.9,"g":25},
{"x":337.4,"y":331.3,"g":90},{"x":339,"y":325.6,"g":170},{"x":339.5,"y":324.6,"g":10},{"x":338.4,"y":329.7,"g":20},{"x":341.1,"y":331.6,"g":35},{"x":343.7,"y":330,"g":40},{"x":343.9,"y":326,"g":90},{"x":343.7,"y":316.8,"g":160},{"x":343.2,"y":321.4,"g":5},{"x":347.2,"y":321,"g":15},{"x":347.2,"y":316.8,"g":10},{"x":348.5,"y":313.1,"g":110},{"x":351.7,"y":312.2,"g":10},{"x":351.1,"y":313.6,"g":150},{"x":351.1,"y":316.8,"g":165},{"x":355.2,"y":312.7,"g":90},{"x":355.2,"y":316.4,"g":60},{"x":354.8,"y":320,"g":70},{"x":358,"y":319.8,"g":130},{"x":359.1,"y":323.7,"g":165},{"x":362.1,"y":319.6,"g":130},{"x":362.3,"y":326,"g":175},{"x":362.8,"y":323.9,"g":120},
{"x":377.9,"y":306.7,"g":140},{"x":381.3,"y":306.2,"g":45},{"x":385.2,"y":306.2,"g":90},{"x":381.9,"y":302,"g":60},{"x":381.9,"y":297.6,"g":30},{"x":386.3,"y":295.6,"g":90},{"x":386.1,"y":297.4,"g":110},{"x":386.1,"y":302,"g":140},
{"x":423.9,"y":332,"g":70},{"x":423.9,"y":333.9,"g":130},{"x":427.9,"y":331.6,"g":20},{"x":427.9,"y":336.6,"g":80},{"x":431.3,"y":332.5,"g":170},{"x":431.6,"y":336.6,"g":100},{"x":434.3,"y":337.1,"g":130}
]},"mark":{"type":"circle","opacity":1,"size":400,"stroke":null},"encoding":{"x":{"field":"x","type":"quantitative","scale":{"domain":[-15.8,457.5],"nice":false,"zero":false},"axis":{"values":[0,100,200,300,400],"title":"residue index","labelPadding":-3,"titlePadding":10,"labelFlush":false}},"y":{"field":"y","type":"quantitative","scale":{"domain":[-16.2,457.4],"nice":false,"zero":false},"axis":{"values":[0,100,200,300,400],"title":"residue index","labelAngle":270,"labelAlign":"center","labelBaseline":"bottom","labelPadding":26,"titlePadding":12,"labelFlush":false}},"color":{"field":"g","type":"quantitative","legend":null,"scale":{"domain":[0,255],"range":["#000000","#ffffff"]}}}}
